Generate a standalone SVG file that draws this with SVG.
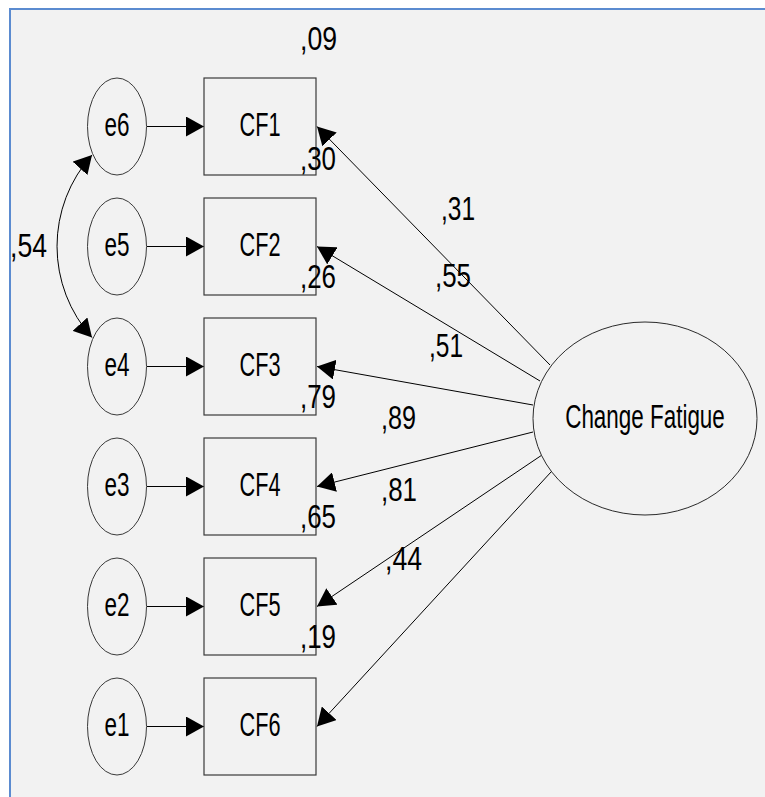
<svg xmlns="http://www.w3.org/2000/svg" width="765" height="797" viewBox="0 0 765 797">
  <defs>
    <marker id="ah" markerUnits="userSpaceOnUse" markerWidth="18" markerHeight="20" viewBox="0 0 18 20" refX="18" refY="10" orient="auto-start-reverse">
      <path d="M0,0 L18,10 L0,20 Z" fill="#000"/>
    </marker>
  </defs>
  <style>
    .box { fill: #f2f2f2; stroke: #3a3a3a; stroke-width: 1.2; }
    .err { fill: #f2f2f2; stroke: #3a3a3a; stroke-width: 1; }
    .lat { fill: #f2f2f2; stroke: #2a2a2a; stroke-width: 1; }
    .edge { fill: none; stroke: #000; stroke-width: 1; marker-end: url(#ah); }
    .cov { fill: none; stroke: #000; stroke-width: 1; marker-start: url(#ah); marker-end: url(#ah); }
    text { font-family: "Liberation Sans", Arial, sans-serif; font-size: 34px; fill: #000; }
    .mid { text-anchor: middle; }
  </style>
  <rect x="0" y="0" width="765" height="797" fill="#ffffff"/>
  <rect x="9" y="8.5" width="756" height="788.5" fill="#f2f2f2"/>
  <line x1="9" y1="9" x2="765" y2="9" stroke="#5b8bd0" stroke-width="2"/>
  <line x1="10" y1="8" x2="10" y2="797" stroke="#5b8bd0" stroke-width="2"/>

  <g id="connectors">
    <line class="edge" x1="147" y1="126.5" x2="204" y2="126.5"/>
    <line class="edge" x1="147" y1="246.5" x2="204" y2="246.5"/>
    <line class="edge" x1="147" y1="366.5" x2="204" y2="366.5"/>
    <line class="edge" x1="147" y1="486.5" x2="204" y2="486.5"/>
    <line class="edge" x1="147" y1="606.5" x2="204" y2="606.5"/>
    <line class="edge" x1="147" y1="726.5" x2="204" y2="726.5"/>
    <line class="edge" x1="550" y1="365" x2="317" y2="126.5"/>
    <line class="edge" x1="540" y1="381" x2="317" y2="246.5"/>
    <line class="edge" x1="533" y1="405" x2="317" y2="366.5"/>
    <line class="edge" x1="533" y1="432" x2="317" y2="486.5"/>
    <line class="edge" x1="542" y1="455" x2="317" y2="606.5"/>
    <line class="edge" x1="551" y1="472" x2="317" y2="726.5"/>
    <path class="cov" d="M92,155 A136.5 136.5 0 0 0 92,337.5"/>
  </g>

  <g id="e6"><ellipse class="err" cx="117" cy="126.5" rx="29.5" ry="48.5"/><text class="mid" x="117" y="135.5" textLength="25" lengthAdjust="spacingAndGlyphs">e6</text></g>
  <g id="e5"><ellipse class="err" cx="117" cy="246.5" rx="29.5" ry="48.5"/><text class="mid" x="117" y="255.5" textLength="25" lengthAdjust="spacingAndGlyphs">e5</text></g>
  <g id="e4"><ellipse class="err" cx="117" cy="366.5" rx="29.5" ry="48.5"/><text class="mid" x="117" y="375.5" textLength="25" lengthAdjust="spacingAndGlyphs">e4</text></g>
  <g id="e3"><ellipse class="err" cx="117" cy="486.5" rx="29.5" ry="48.5"/><text class="mid" x="117" y="495.5" textLength="25" lengthAdjust="spacingAndGlyphs">e3</text></g>
  <g id="e2"><ellipse class="err" cx="117" cy="606.5" rx="29.5" ry="48.5"/><text class="mid" x="117" y="615.5" textLength="25" lengthAdjust="spacingAndGlyphs">e2</text></g>
  <g id="e1"><ellipse class="err" cx="117" cy="726.5" rx="29.5" ry="48.5"/><text class="mid" x="117" y="735.5" textLength="25" lengthAdjust="spacingAndGlyphs">e1</text></g>

  <g id="CF1"><rect class="box" x="204" y="78" width="112" height="97"/><text class="mid" x="260" y="135.5" textLength="41" lengthAdjust="spacingAndGlyphs">CF1</text></g>
  <g id="CF2"><rect class="box" x="204" y="198" width="112" height="97"/><text class="mid" x="260" y="255.5" textLength="41" lengthAdjust="spacingAndGlyphs">CF2</text></g>
  <g id="CF3"><rect class="box" x="204" y="318" width="112" height="97"/><text class="mid" x="260" y="375.5" textLength="41" lengthAdjust="spacingAndGlyphs">CF3</text></g>
  <g id="CF4"><rect class="box" x="204" y="438" width="112" height="97"/><text class="mid" x="260" y="495.5" textLength="41" lengthAdjust="spacingAndGlyphs">CF4</text></g>
  <g id="CF5"><rect class="box" x="204" y="558" width="112" height="97"/><text class="mid" x="260" y="615.5" textLength="41" lengthAdjust="spacingAndGlyphs">CF5</text></g>
  <g id="CF6"><rect class="box" x="204" y="678" width="112" height="97"/><text class="mid" x="260" y="735.5" textLength="41" lengthAdjust="spacingAndGlyphs">CF6</text></g>

  <g id="ChangeFatigue"><ellipse class="lat" cx="645" cy="418.5" rx="112" ry="96.5"/><text class="mid" transform="translate(645,427.5) scale(0.66,1)" x="0" y="0">Change Fatigue</text></g>

  <g id="labels">
    <text x="300" y="50" textLength="37" lengthAdjust="spacingAndGlyphs">,09</text>
    <text x="300" y="170" textLength="36" lengthAdjust="spacingAndGlyphs">,30</text>
    <text x="300" y="288" textLength="36" lengthAdjust="spacingAndGlyphs">,26</text>
    <text x="300" y="408" textLength="36" lengthAdjust="spacingAndGlyphs">,79</text>
    <text x="300" y="528" textLength="36" lengthAdjust="spacingAndGlyphs">,65</text>
    <text x="300" y="648" textLength="36" lengthAdjust="spacingAndGlyphs">,19</text>
    <text x="441" y="220" textLength="34" lengthAdjust="spacingAndGlyphs">,31</text>
    <text x="435" y="287" textLength="36" lengthAdjust="spacingAndGlyphs">,55</text>
    <text x="429" y="357" textLength="34" lengthAdjust="spacingAndGlyphs">,51</text>
    <text x="381" y="429" textLength="35" lengthAdjust="spacingAndGlyphs">,89</text>
    <text x="381" y="501" textLength="36" lengthAdjust="spacingAndGlyphs">,81</text>
    <text x="385" y="570" textLength="37" lengthAdjust="spacingAndGlyphs">,44</text>
    <text x="10" y="257" textLength="37" lengthAdjust="spacingAndGlyphs">,54</text>
  </g>
</svg>
